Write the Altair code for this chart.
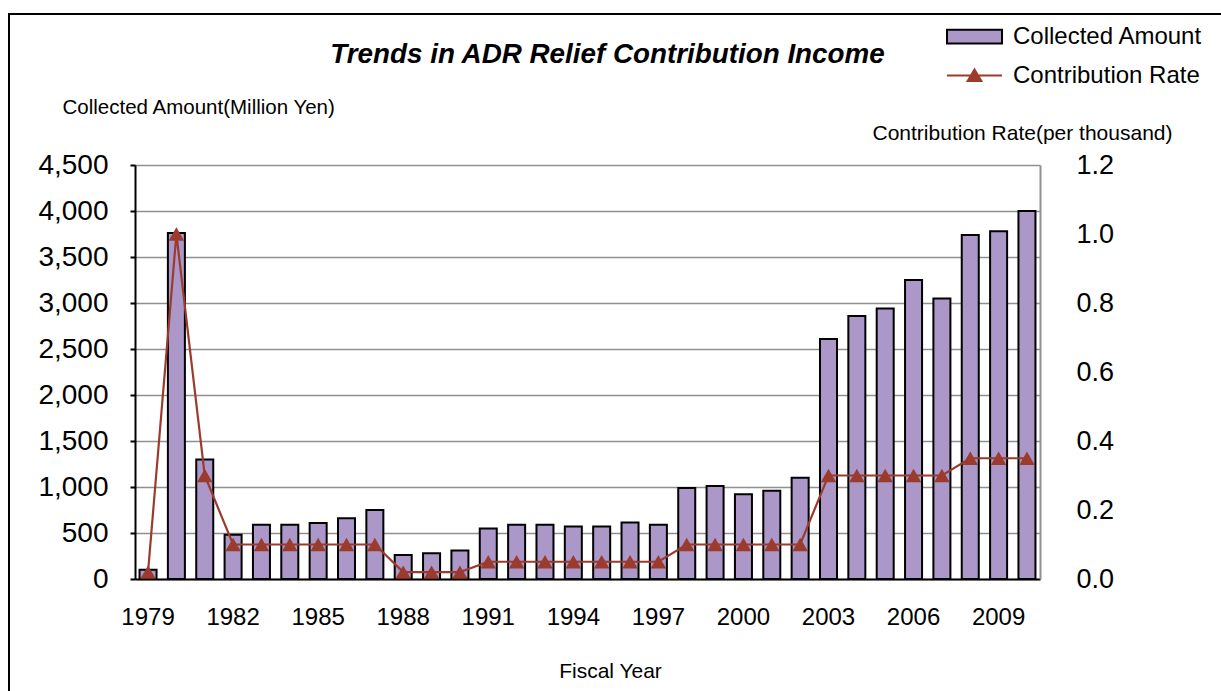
import altair as alt
import pandas as pd

years = [str(y) for y in range(1979, 2011)]
amount = [100, 3760, 1300, 480, 590, 590, 610, 660, 750, 260, 280, 310,
          550, 590, 590, 570, 570, 615, 590, 990, 1010, 920, 960, 1100,
          2610, 2860, 2940, 3250, 3050, 3740, 3780, 4000]
rate = [0.02, 1.0, 0.3, 0.1, 0.1, 0.1, 0.1, 0.1, 0.1, 0.02, 0.02, 0.02,
        0.05, 0.05, 0.05, 0.05, 0.05, 0.05, 0.05, 0.1, 0.1, 0.1, 0.1, 0.1,
        0.3, 0.3, 0.3, 0.3, 0.3, 0.35, 0.35, 0.35]
tick_years = [str(y) for y in range(1979, 2011, 3)]
left_ticks = list(range(0, 4501, 500))
right_ticks = [0, 0.2, 0.4, 0.6, 0.8, 1.0, 1.2]

BAR_FILL = "#ab97c8"
LINE_COL = "#9b3b2d"
FONT = "Liberation Sans"

df = pd.DataFrame({"Year": years, "Amount": amount, "Rate": rate,
                   "s1": "Collected Amount", "s2": "Contribution Rate"})

x_enc = alt.X("Year:O", scale=alt.Scale(paddingInner=0.4, paddingOuter=0.16),
              axis=alt.Axis(values=tick_years, labelAngle=0, ticks=False,
                            domainColor="black", domainWidth=2,
                            labelFontSize=24, labelPadding=26,
                            title="Fiscal Year", titleFontSize=21,
                            titleFontWeight="normal", titleX=475, titleY=98,
                            titleAlign="center", titleBaseline="alphabetic",
                            grid=False))

bars = alt.Chart(df).mark_bar(stroke="black", strokeWidth=2).encode(
    x=x_enc,
    y=alt.Y("Amount:Q", scale=alt.Scale(domain=[0, 4500], nice=False),
            axis=alt.Axis(values=left_ticks, format=",d", labelFontSize=28,
                          labelPadding=22, tickSize=5, tickColor="black",
                          tickWidth=2, domainColor="black", domainWidth=2,
                          grid=True, gridColor="#909090", gridWidth=1.5,
                          title="Collected Amount(Million Yen)",
                          titleFontSize=20.5, titleFontWeight="normal",
                          titleAngle=0, titleAlign="left",
                          titleBaseline="alphabetic", titleX=-73, titleY=-52)),
    fill=alt.Fill("s1:N", scale=alt.Scale(domain=["Collected Amount"], range=[BAR_FILL]),
                  legend=alt.Legend(title=None, orient="none", legendX=811, legendY=-157,
                                    symbolType="M-1,-0.25L1,-0.25L1,0.25L-1,0.25Z",
                                    symbolSize=3025, symbolStrokeColor="black",
                                    symbolStrokeWidth=2, labelFontSize=24,
                                    labelOffset=10, labelLimit=0, padding=0)),
)

line = alt.Chart(df).mark_line(
    strokeWidth=2.2,
    point=alt.OverlayMarkDef(shape="triangle-up", filled=True, size=240, opacity=1),
).encode(
    x=x_enc,
    y=alt.Y("Rate:Q", scale=alt.Scale(domain=[0, 1.2], nice=False),
            axis=alt.Axis(values=right_ticks, format=".1f", orient="right",
                          labelFontSize=27, labelPadding=36, ticks=False,
                          domainColor="#909090", domainWidth=2, grid=False,
                          title="Contribution Rate(per thousand)",
                          titleFontSize=21, titleFontWeight="normal",
                          titleAngle=0, titleAlign="left",
                          titleBaseline="alphabetic", titleX=-168, titleY=-26)),
    color=alt.Color("s2:N", scale=alt.Scale(domain=["Contribution Rate"], range=[LINE_COL]),
                    legend=alt.Legend(title=None, orient="none", legendX=811, legendY=-118,
                                      symbolType="M-1,0L1,0M-0.25,0.2L0,-0.22L0.25,0.2Z",
                                      symbolSize=3025, symbolStrokeWidth=2,
                                      symbolFillColor=LINE_COL, labelFontSize=24,
                                      labelOffset=10, labelLimit=0, padding=0)),
)

frame = alt.Chart(pd.DataFrame({"a": [0]})).mark_rect(
    fill=None, stroke="black", strokeWidth=2, clip=False).encode(
    x=alt.value(-126), x2=alt.value(1120), y=alt.value(-151), y2=alt.value(560))

chart = alt.layer(frame, bars, line).resolve_scale(y="independent").properties(
    width=905, height=414,
    title=alt.Title("Trends in ADR Relief Contribution Income", fontSize=27.8,
                    fontStyle="italic", fontWeight="bold", anchor="middle",
                    dx=20, dy=65, font=FONT, color="black"),
    autosize=alt.AutoSizeParams(type="none"),
    padding={"left": 135, "top": 165, "right": 181, "bottom": 112},
).configure(font=FONT).configure_view(stroke=None).configure_axis(
    labelColor="black", titleColor="black", labelFont=FONT, titleFont=FONT
).configure_legend(labelFont=FONT, labelColor="black")

chart.save("out.html", embed_options={"renderer": "svg", "actions": False})
